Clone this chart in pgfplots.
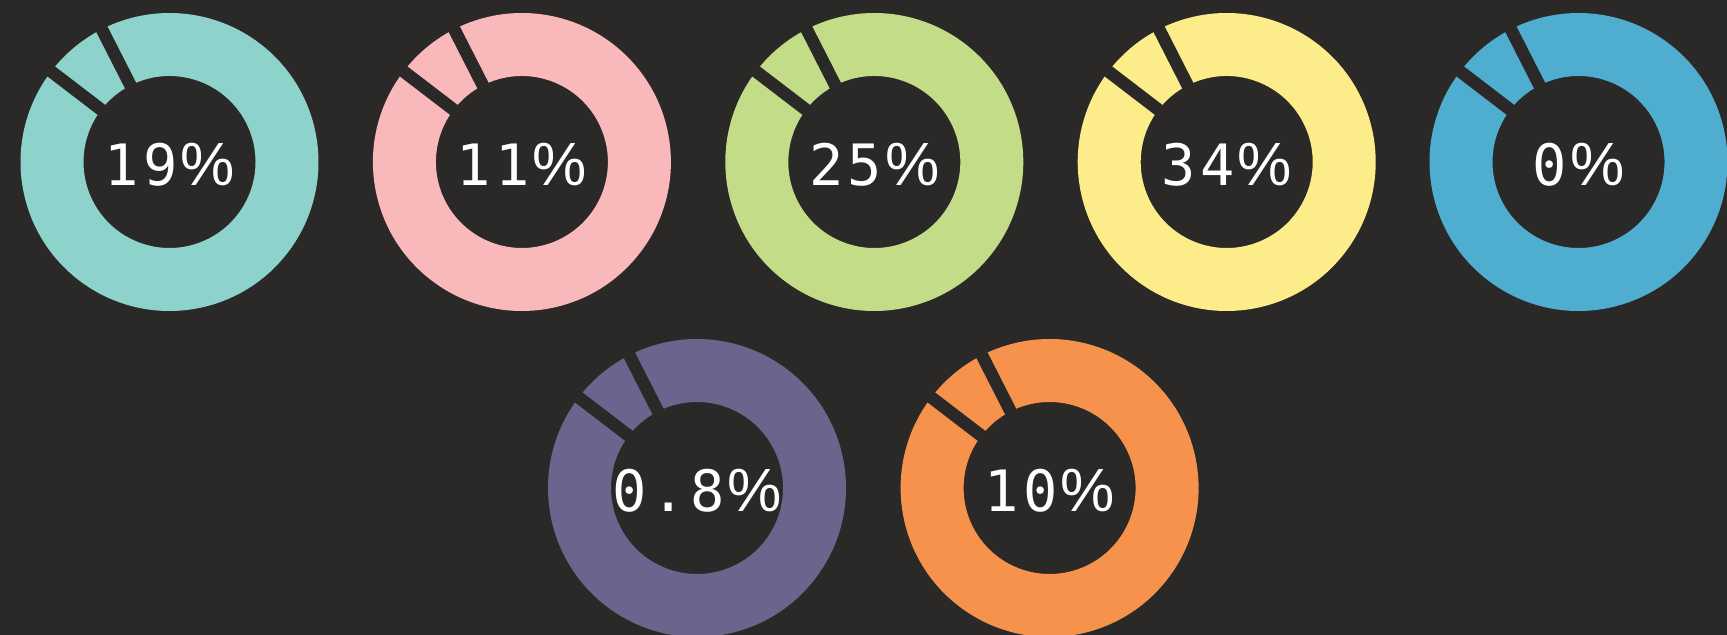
\documentclass[border=0pt]{standalone}
\usepackage{pgfplots}
\pgfplotsset{compat=1.18}
\usepackage{fontspec}
\newfontfamily\donutfont[LetterSpace=8]{DejaVu Sans Mono}
\newfontfamily\pctfont{Liberation Sans}
\newcommand{\pct}{\hspace{3bp}{\pctfont\fontsize{61bp}{70bp}\selectfont\%}}
\definecolor{bgc}{HTML}{2B2927}
\definecolor{cA}{HTML}{8DD3CB}
\definecolor{cB}{HTML}{F9B9BB}
\definecolor{cC}{HTML}{C2DC88}
\definecolor{cD}{HTML}{FDEC8A}
\definecolor{cE}{HTML}{4FAED0}
\definecolor{cF}{HTML}{6B648C}
\definecolor{cG}{HTML}{F6924B}
% slice sizes (percent of the ring)
\def\smallslice{7.1}
\def\startangle{117}
\pgfmathsetmacro\aone{\startangle}
\pgfmathsetmacro\atwo{\startangle+3.6*\smallslice}
\pgfmathsetmacro\athree{\startangle+360}
\def\Ro{149bp}
\def\Ri{86bp}
\def\Rw{63bp}
\newcommand{\ring}[5]{% cx cy color a1 a2
  \fill[#3] (axis cs:#1,#2) ++(#4:\Ro) arc[start angle=#4,end angle=#5,radius=\Ro]
     -- ++(#5+180:\Rw) arc[start angle=#5,end angle=#4,radius=\Ri] -- cycle;}
\newcommand{\donut}[4]{%
  \ring{#1}{#2}{#3}{\aone}{\atwo}
  \ring{#1}{#2}{#3}{\atwo}{\athree}
  \draw[bgc,line width=12.5bp] (axis cs:#1,#2) ++(\aone:78bp) -- ++(\aone:80bp);
  \draw[bgc,line width=12.5bp] (axis cs:#1,#2) ++(\atwo:78bp) -- ++(\atwo:80bp);
  \node[text=white,font=\donutfont\fontsize{57bp}{68bp}\selectfont,inner sep=0pt,anchor=center] at (axis cs:#1,#2-3) {#4};}
\begin{document}
\begin{tikzpicture}
\begin{axis}[x=1bp,y=1bp,xmin=0,xmax=1727,ymin=0,ymax=635,hide axis,scale only axis,disabledatascaling,clip=true]
\fill[bgc] (axis cs:0,0) rectangle (axis cs:1727,635);
\donut{169.5}{473}{cA}{19\pct}
\donut{521.9}{473}{cB}{11\pct}
\donut{874.3}{473}{cC}{25\pct}
\donut{1226.7}{473}{cD}{34\pct}
\donut{1578.5}{473}{cE}{0\pct}
\donut{697}{147}{cF}{0.8\pct}
\donut{1049.6}{147}{cG}{10\pct}
\end{axis}
\end{tikzpicture}
\end{document}
